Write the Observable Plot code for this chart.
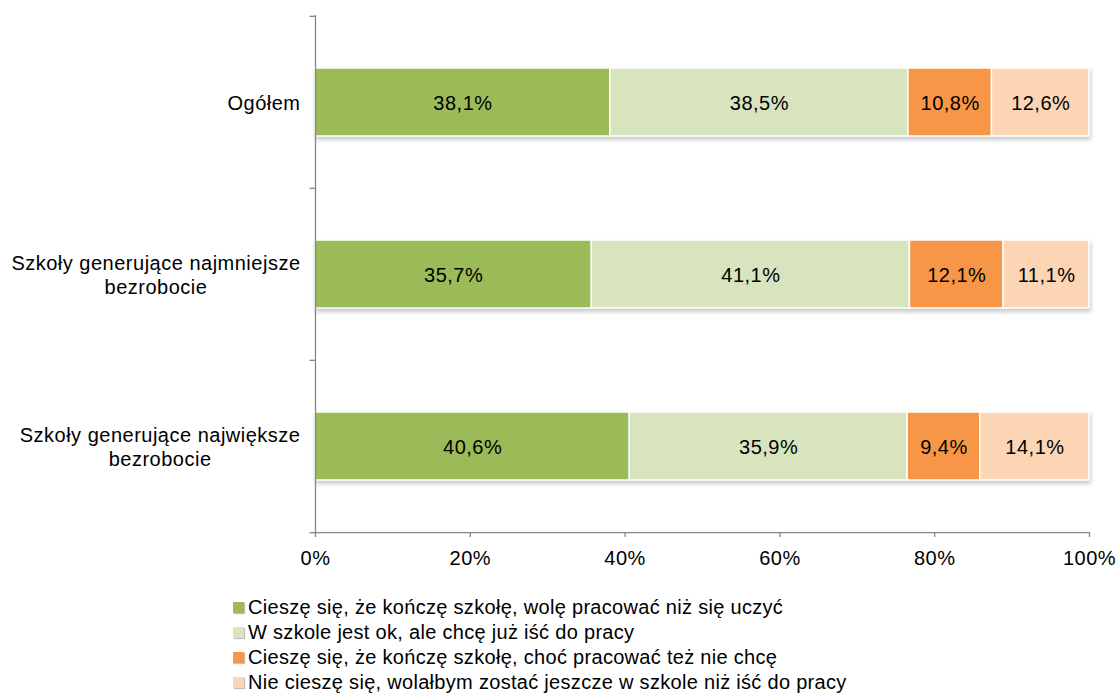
<!DOCTYPE html>
<html>
<head>
<meta charset="utf-8">
<script src="https://cdn.jsdelivr.net/npm/d3@7"></script>
<script src="https://cdn.jsdelivr.net/npm/@observablehq/plot@0.6"></script>
<style>
  html, body { margin: 0; padding: 0; background: #fff; }
  body { width: 1119px; height: 693px; overflow: hidden; font-family: "Liberation Sans", Arial, sans-serif; }
  #legend { position: absolute; left: 233px; top: 595px; font-size: 20px; letter-spacing: 0.3px; color: #000; }
  .li { height: 25px; line-height: 25px; display: flex; align-items: center; white-space: nowrap; }
  .sw { width: 11px; height: 11px; margin-right: 4px; box-shadow: 1px 1px 1px rgba(0,0,0,0.25); }
</style>
</head>
<body>
<div id="chart"></div>
<div id="legend"></div>
<script>
const categories = ["Ogółem", "Szkoły generujące najmniejsze bezrobocie", "Szkoły generujące największe bezrobocie"];
const series = [
  "Cieszę się, że kończę szkołę, wolę pracować niż się uczyć",
  "W szkole jest ok, ale chcę już iść do pracy",
  "Cieszę się, że kończę szkołę, choć pracować też nie chcę",
  "Nie cieszę się, wolałbym zostać jeszcze w szkole niż iść do pracy"
];
const colors = ["#9BBB59", "#D7E4BD", "#F79646", "#FCD5B5"];
const values = [
  [38.1, 38.5, 10.8, 12.6],
  [35.7, 41.1, 12.1, 11.1],
  [40.6, 35.9, 9.4, 14.1]
];
const xTicks = [0, 20, 40, 60, 80, 100];
const labelLines = [["Ogółem"], ["Szkoły generujące najmniejsze", "bezrobocie"], ["Szkoły generujące największe", "bezrobocie"]];

const data = [];
categories.forEach((c, i) => series.forEach((s, j) => data.push({cat: c, series: s, value: values[i][j]})));

const fmt = v => v.toFixed(1).replace(".", ",") + "%";
const axisColor = "#868686";
const font = "'Liberation Sans', Arial, sans-serif";
const FS = 20;
const LS = "0.5px";

// measure text width for centered multi-line labels
const cvs = document.createElement("canvas").getContext("2d");
cvs.font = `${FS}px 'Liberation Sans', Arial, sans-serif`;
const measure = t => cvs.measureText(t).width + 0.5 * t.length;

const labelMarks = [];
labelLines.forEach((lines, i) => {
  const w = Math.max(...lines.map(measure));
  const center = -15 - w / 2;
  const n = lines.length;
  lines.forEach((t, k) => {
    labelMarks.push(Plot.text([{cat: categories[i], text: t}], {
      y: "cat", text: "text", frameAnchor: "left", textAnchor: "middle",
      dx: center, dy: (k - (n - 1) / 2) * 24 + 1, fontSize: FS, fill: "#000", letterSpacing: LS
    }));
  });
});

const chart = Plot.plot({
  width: 1119,
  height: 585,
  marginLeft: 315,
  marginRight: 30,
  marginTop: 15,
  marginBottom: 53,
  style: {fontFamily: font, fontSize: FS + "px", color: "#000", background: "#fff", overflow: "visible"},
  x: {domain: [0, 100], label: null},
  y: {domain: categories, padding: 0, axis: null},
  color: {domain: series, range: colors},
  marks: [
    Plot.barX(data, Plot.stackX({
      x: "value", y: "cat", fill: "series", order: series,
      insetTop: 52, insetBottom: 52, stroke: "#fff", strokeWidth: 1.5
    })),
    Plot.text(data, Plot.stackX({
      x: "value", y: "cat", z: "series", order: series,
      text: d => fmt(d.value), fill: "#000", fontSize: FS, letterSpacing: LS, dy: 1
    })),
    // y axis line
    Plot.ruleX([0], {stroke: axisColor, strokeWidth: 1.3}),
    // x axis line
    Plot.ruleY([categories[2]], {y: d => d, dy: 86.17, x1: 0, x2: 100, stroke: axisColor, strokeWidth: 1.3}),
    // y ticks at band boundaries
    Plot.ruleY(categories, {y: d => d, x1: -0.7, x2: 0, dy: -86.17, stroke: axisColor, strokeWidth: 1.3}),
    Plot.ruleY([categories[2]], {y: d => d, x1: -0.7, x2: 0, dy: 86.17, stroke: axisColor, strokeWidth: 1.3}),
    // x axis
    Plot.axisX({ticks: xTicks, tickFormat: d => d + "%", tickSize: 5, tickPadding: 13, stroke: axisColor, strokeWidth: 1.3, fontSize: FS, fill: "#000", label: null}),
    ...labelMarks
  ]
});
chart.querySelectorAll('g[aria-label="bar"]').forEach(g => g.style.filter = "drop-shadow(1px 3px 2px rgba(0,0,0,0.22))");
chart.querySelectorAll('text').forEach(t => { if (!t.getAttribute("letter-spacing")) t.style.letterSpacing = LS; });
document.getElementById("chart").appendChild(chart);

const legend = document.getElementById("legend");
series.forEach((s, j) => {
  const row = document.createElement("div");
  row.className = "li";
  const sw = document.createElement("span");
  sw.className = "sw";
  sw.style.background = colors[j];
  const t = document.createElement("span");
  t.textContent = s;
  row.appendChild(sw);
  row.appendChild(t);
  legend.appendChild(row);
});
</script>
</body>
</html>
